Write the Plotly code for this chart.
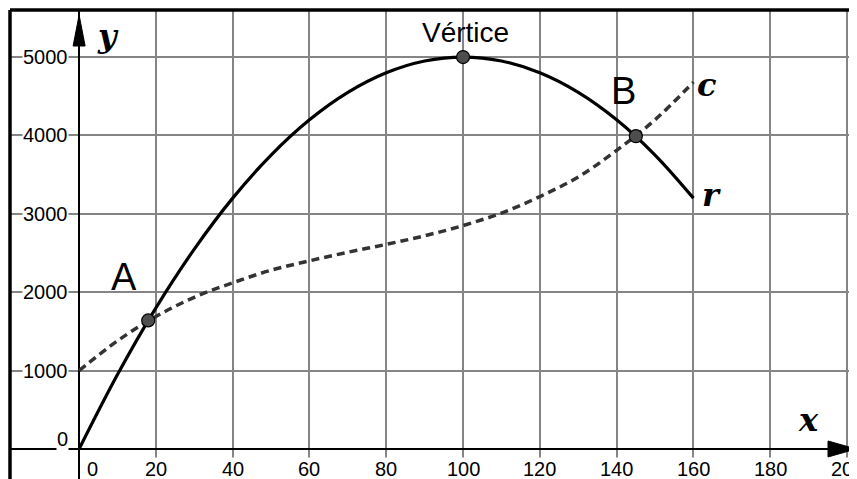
import plotly.graph_objects as go

# ---- data ----
x_vals = [0, 10, 20, 30, 40, 50, 60, 70, 80, 90, 100, 110, 120, 130, 140, 150, 160]
r_vals = [0, 950, 1800, 2550, 3200, 3750, 4200, 4550, 4800, 4950, 5000, 4950, 4800, 4550, 4200, 3750, 3200]
c_vals = [1000, 1380, 1690, 1935, 2120, 2280, 2400, 2510, 2610, 2720, 2850, 3010, 3220, 3470, 3810, 4200, 4680]

pt_names = ["A", "Vértice", "B"]
pt_x = [18, 100, 145]
pt_y = [1640, 5000, 3990]
pt_label_shift = [(-24, 43), (2, 25), (-12, 45)]

x_ticks = [0, 20, 40, 60, 80, 100, 120, 140, 160, 180, 200]
y_ticks = [0, 1000, 2000, 3000, 4000, 5000]

X_RANGE = [-18, 202.6]
Y_RANGE = [-383, 5600]

fig = go.Figure()

fig.add_trace(go.Scatter(x=x_vals, y=c_vals, mode="lines", line=dict(color="#333333", width=3.5, dash="8px,5px", shape="spline"),
                         hoverinfo="skip", showlegend=False))
fig.add_trace(go.Scatter(x=x_vals, y=r_vals, mode="lines", line=dict(color="black", width=3.2, shape="spline"),
                         hoverinfo="skip", showlegend=False))
fig.add_trace(go.Scatter(x=pt_x, y=pt_y, mode="markers",
                         marker=dict(size=13, color="#4d4d4d", line=dict(color="black", width=1.2)),
                         hoverinfo="skip", showlegend=False))

ann = []
tick_font = dict(family="Liberation Sans, Arial", size=20, color="black")
for t in x_ticks:
    ann.append(dict(x=t, y=0, xref="x", yref="y", text=str(t), showarrow=False,
                    xanchor="center", yanchor="middle", yshift=-20, xshift=(13 if t == 0 else 0),
                    font=tick_font, bgcolor="white", borderpad=0))
for t in y_ticks:
    ann.append(dict(x=0, y=t, xref="x", yref="y", text=str(t), showarrow=False,
                    xanchor="right", yanchor="middle", xshift=-10, yshift=(10 if t == 0 else 0),
                    font=tick_font, bgcolor="white", borderpad=0))

for name, px_, py_, (dx, dy) in zip(pt_names, pt_x, pt_y, pt_label_shift):
    ann.append(dict(x=px_, y=py_, xref="x", yref="y", text=name, showarrow=False,
                    xanchor="center", yanchor="middle", xshift=dx, yshift=dy,
                    font=dict(family="Liberation Sans, Arial", size=(28 if name == "Vértice" else 38), color="black")))

math_font = dict(family="DejaVu Serif", size=32, color="black")
ann.append(dict(x=x_vals[-1], y=c_vals[-1], xref="x", yref="y", text="<b><i>c</i></b>", showarrow=False,
                xanchor="center", yanchor="middle", xshift=13, yshift=-3, font=math_font))
ann.append(dict(x=x_vals[-1], y=r_vals[-1], xref="x", yref="y", text="<b><i>r</i></b>", showarrow=False,
                xanchor="center", yanchor="middle", xshift=18, yshift=3, font=math_font))
ann.append(dict(x=X_RANGE[1], y=0, xref="x", yref="y", text="<b><i>x</i></b>", showarrow=False,
                xanchor="center", yanchor="middle", xshift=-49, yshift=29, font=math_font))
ann.append(dict(x=0, y=Y_RANGE[1], xref="x", yref="y", text="<b><i>y</i></b>", showarrow=False,
                xanchor="center", yanchor="middle", xshift=29, yshift=-26, font=math_font))

shapes = [
    # arrowheads (pixel-sized, anchored on axes)
    dict(type="path", xref="x", yref="y", xsizemode="pixel", ysizemode="pixel", xanchor=0, yanchor=Y_RANGE[1],
         path="M 0 -5 L -6 -36 L 6 -36 Z", fillcolor="black", line=dict(color="black", width=1)),
    dict(type="path", xref="x", yref="y", xsizemode="pixel", ysizemode="pixel", xanchor=X_RANGE[1], yanchor=0,
         path="M -1 0 L -29 -8 L -29 8 Z", fillcolor="black", line=dict(color="black", width=1)),
    # frame
    dict(type="line", xref="paper", yref="paper", x0=0, x1=0, y0=0, y1=1, line=dict(color="black", width=3.5)),
    dict(type="line", xref="paper", yref="paper", x0=0, x1=1, y0=1, y1=1, line=dict(color="black", width=3.5)),
]

# page body has an 8px default margin; size the figure so the plot area spans 10..857 x 10..479
fig.update_layout(
    width=849, height=471,
    margin=dict(l=2, r=0, t=2, b=0),
    paper_bgcolor="white", plot_bgcolor="white",
    annotations=ann, shapes=shapes,
    xaxis=dict(range=X_RANGE, dtick=20, tick0=0, showgrid=True, gridcolor="#858585", gridwidth=1.6,
               zeroline=True, zerolinecolor="black", zerolinewidth=2, showticklabels=False, ticks="", showline=False,
               fixedrange=True),
    yaxis=dict(range=Y_RANGE, dtick=1000, tick0=0, showgrid=True, gridcolor="#858585", gridwidth=1.6,
               zeroline=True, zerolinecolor="black", zerolinewidth=2, showticklabels=False, ticks="", showline=False,
               fixedrange=True),
)

fig.write_html("out.html")
